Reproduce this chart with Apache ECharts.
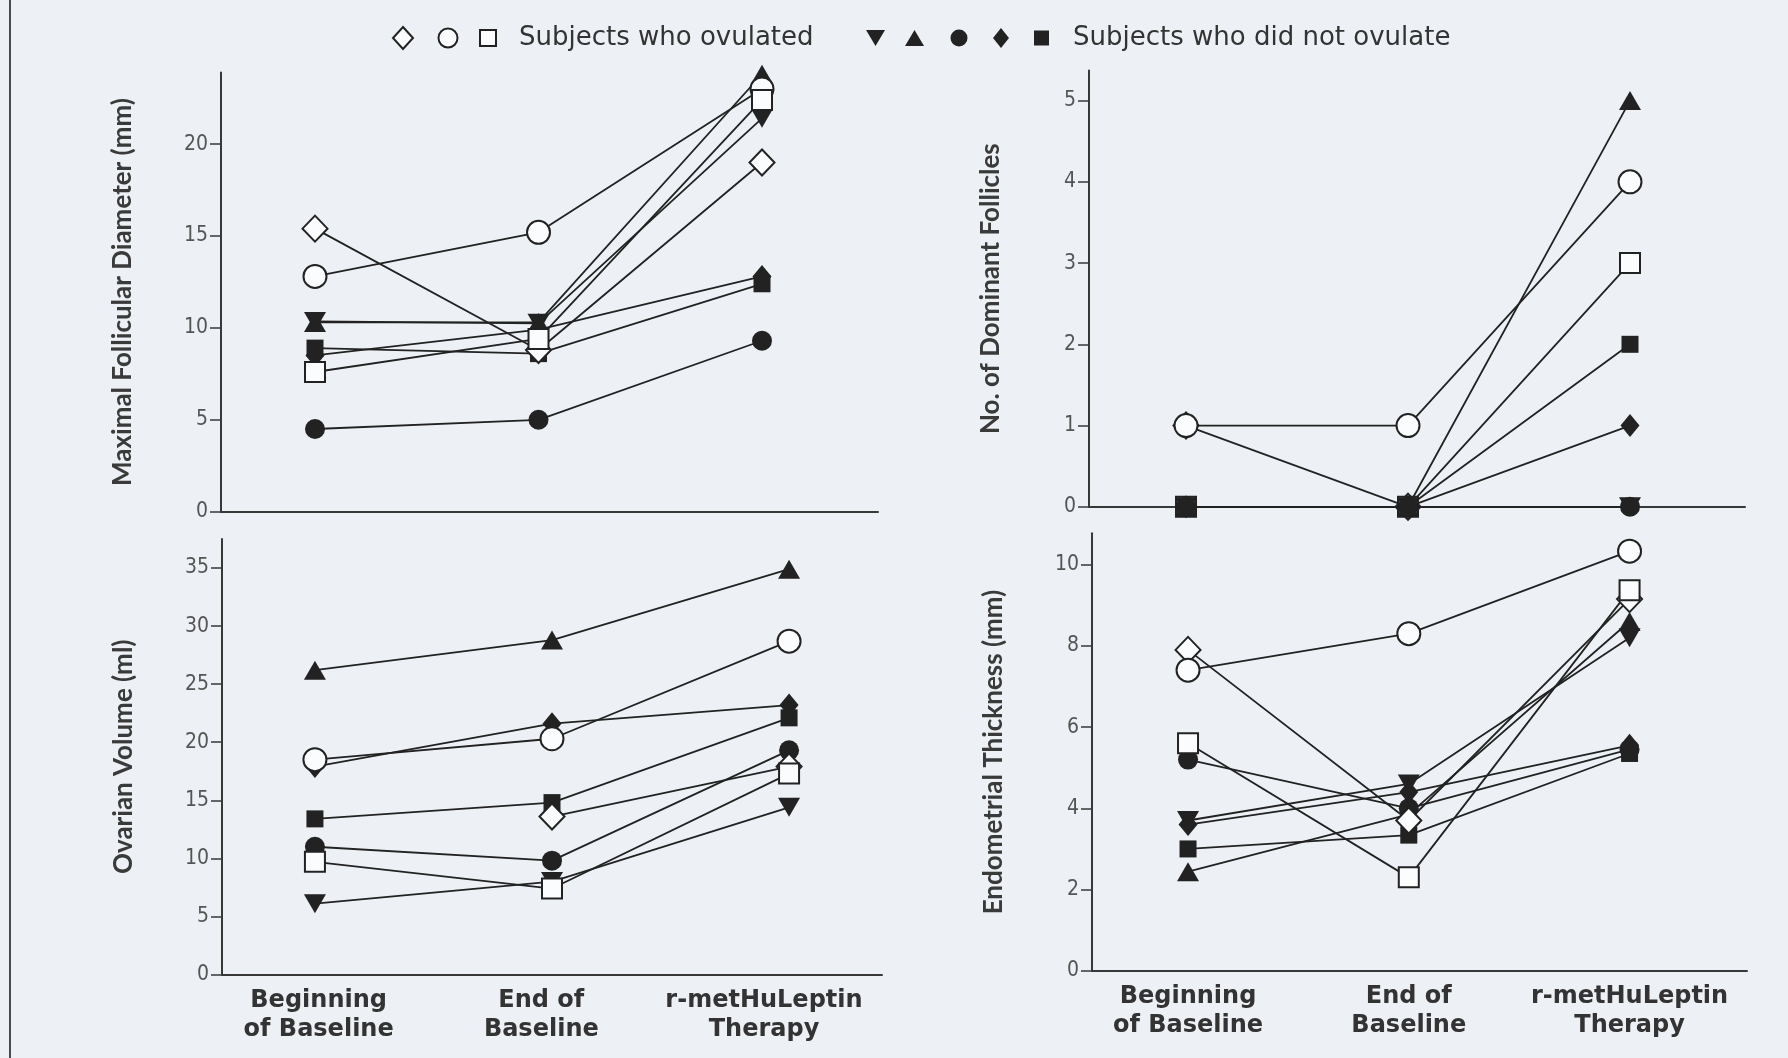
<!DOCTYPE html>
<html>
<head>
<meta charset="utf-8">
<title>r-metHuLeptin ovarian and endometrial response</title>
<script src="https://cdn.jsdelivr.net/npm/echarts@6/dist/echarts.min.js"></script>
<style>
  html, body { margin: 0; padding: 0; background: #edf0f4; }
  #chart { width: 1788px; height: 1058px; }
</style>
</head>
<body>
<div id="chart"></div>
<script>
// Study time points (shared by all four panels)
const timepoints = ['Beginning\nof Baseline', 'End of\nBaseline', 'r-metHuLeptin\nTherapy'];

// Subjects, in drawing order: 3 who ovulated, then 5 who did not
const subjects = ['Subject 1', 'Subject 2', 'Subject 3', 'Subject 4', 'Subject 5', 'Subject 6', 'Subject 7', 'Subject 8'];
const legendLabels = ['Subjects who ovulated', 'Subjects who did not ovulate'];

// One row per subject, one value per time point
const follicleDiameterMm = [
  [15.4, 8.8, 19.0],
  [12.8, 15.2, 23.0],
  [7.6, 9.4, 22.4],
  [10.35, 10.25, 21.4],
  [10.3, 10.3, 23.8],
  [4.5, 5.0, 9.3],
  [8.5, 9.9, 12.8],
  [8.9, 8.6, 12.4]
];
const dominantFollicles = [
  [1, 0, null],
  [1, 1, 4],
  [0, 0, 3],
  [0, 0, 0],
  [0, 0, 5],
  [0, 0, 0],
  [0, 0, 1],
  [0, 0, 2]
];
const ovarianVolumeMl = [
  [null, 13.6, 17.9],
  [18.5, 20.3, 28.7],
  [9.7, 7.4, 17.3],
  [6.1, 8.0, 14.4],
  [26.2, 28.8, 34.9],
  [11.0, 9.8, 19.3],
  [17.9, 21.6, 23.2],
  [13.4, 14.8, 22.1]
];
const endometrialMm = [
  [7.9, 3.7, 9.15],
  [7.4, 8.3, 10.33],
  [5.6, 2.3, 9.37],
  [3.7, 4.6, 8.2],
  [2.44, 3.85, 8.6],
  [5.2, 4.0, 5.45],
  [3.6, 4.4, 5.55],
  [3.0, 3.34, 5.35]
];

// Tick values for each y axis
const diameterTicks = [0, 5, 10, 15, 20];
const follicleTicks = [0, 1, 2, 3, 4, 5];
const volumeTicks = [0, 5, 10, 15, 20, 25, 30, 35];
const endometrialTicks = [0, 2, 4, 6, 8, 10];

// Marker per subject: open for ovulated, filled for not ovulated
const markers = [
  { symbol: 'diamond', size: [25, 26], open: true },
  { symbol: 'circle', size: 23, open: true },
  { symbol: 'rect', size: 20, open: true },
  { symbol: 'triangle', size: [22, 19], open: false, rotate: 180 },
  { symbol: 'triangle', size: [22, 19], open: false },
  { symbol: 'circle', size: 20, open: false },
  { symbol: 'diamond', size: [19, 23], open: false },
  { symbol: 'rect', size: 17, open: false }
];

const INK = '#222';
const AXIS = '#383838';
const OPEN_FILL = '#fbfcfd';
const TICK_FONT = "'Liberation Sans Narrow', 'DejaVu Sans Condensed', 'Liberation Sans', sans-serif";
const NAME_FONT = "Lato, 'Open Sans', sans-serif";
const CAT_FONT = "'DejaVu Sans', sans-serif";
const TICK_LEN = 11;

const panels = [
  { values: follicleDiameterMm, ticks: diameterTicks, title: 'Maximal Follicular Diameter (mm)',
    box: { left: 221, top: 72.4, width: 657, height: 439.3 }, xr: [-0.4206, 2.519], yMax: 23.9,
    showCats: false, filledOnTop: false },
  { values: dominantFollicles, ticks: follicleTicks, title: 'No. of Dominant Follicles',
    box: { left: 1089, top: 70.5, width: 656, height: 436.3 }, xr: [-0.437, 2.518], yMax: 5.37,
    showCats: false, filledOnTop: true },
  { values: ovarianVolumeMl, ticks: volumeTicks, title: 'Ovarian Volume (ml)',
    box: { left: 222, top: 539, width: 660, height: 435.5 }, xr: [-0.392, 2.392], yMax: 37.5,
    showCats: false, filledOnTop: false },
  { values: endometrialMm, ticks: endometrialTicks, title: 'Endometrial Thickness (mm)',
    box: { left: 1092, top: 533.3, width: 655, height: 437.5 }, xr: [-0.435, 2.532], yMax: 10.77,
    showCats: true, filledOnTop: false }
];

const catLabelStyle = {
  fontFamily: CAT_FONT, fontWeight: 'bold', fontSize: 24, lineHeight: 29, color: '#333', margin: 11
};

const grids = [];
const xAxes = [];
const yAxes = [];
const series = [];

panels.forEach((p, gi) => {
  grids.push(Object.assign({ containLabel: false, outerBoundsMode: 'none' }, p.box));
  xAxes.push({
    gridIndex: gi, type: 'value', min: p.xr[0], max: p.xr[1],
    axisLine: { show: true, onZero: false, lineStyle: { color: AXIS, width: 2 } },
    axisTick: { show: false }, splitLine: { show: false },
    axisLabel: p.showCats
      ? Object.assign({ show: true, customValues: [0, 1, 2], formatter: v => timepoints[v] }, catLabelStyle)
      : { show: false }
  });
  yAxes.push({
    gridIndex: gi, type: 'value', min: 0, max: p.yMax,
    axisLine: { show: true, onZero: false, lineStyle: { color: AXIS, width: 2 } },
    axisTick: { show: true, customValues: p.ticks, length: TICK_LEN, lineStyle: { color: AXIS, width: 1.5 } },
    axisLabel: { customValues: p.ticks, margin: TICK_LEN + 2, fontFamily: TICK_FONT, fontSize: 21, color: '#555' },
    splitLine: { show: false },
    name: p.title, nameLocation: 'middle', nameRotate: 90, nameGap: 85,
    nameTextStyle: { fontFamily: NAME_FONT, fontWeight: 'bold', fontSize: 26, color: '#3a3a3a' }
  });
  p.values.forEach((row, si) => {
    const m = markers[si];
    const onTop = p.filledOnTop ? !m.open : m.open;
    series.push({
      type: 'line', name: subjects[si], xAxisIndex: gi, yAxisIndex: gi,
      data: row.map((v, i) => [i, v]),
      symbol: m.symbol, symbolSize: m.size, symbolRotate: m.rotate || 0,
      showSymbol: true, showAllSymbol: true, connectNulls: false,
      lineStyle: { color: INK, width: 1.8 },
      itemStyle: { color: m.open ? OPEN_FILL : INK, borderColor: INK, borderWidth: m.open ? 2 : 0 },
      z: onTop ? 3 : 2, silent: true, animation: false
    });
  });
});

// Time-point captions under the ovarian-volume panel, spaced like the panel above it
grids.push({ left: 222, top: 974.5, width: 660, height: 1, containLabel: false, outerBoundsMode: 'none' });
xAxes.push({
  gridIndex: 4, type: 'value', min: -0.434, max: 2.53,
  axisLine: { show: false }, axisTick: { show: false }, splitLine: { show: false },
  axisLabel: Object.assign({ show: true, customValues: [0, 1, 2], formatter: v => timepoints[v] }, catLabelStyle)
});
yAxes.push({ gridIndex: 4, type: 'value', min: 0, max: 1, show: false });

// Legend strip along the top
const LY = 38;
function diamondPts(cx, cy, w, h) {
  return [[cx, cy - h / 2], [cx + w / 2, cy], [cx, cy + h / 2], [cx - w / 2, cy]];
}
const openStyle = { fill: OPEN_FILL, stroke: INK, lineWidth: 2 };
const filledStyle = { fill: INK };
const legendText = { fontFamily: CAT_FONT, fontSize: 26, fill: '#333', verticalAlign: 'middle' };
const graphic = [
  { type: 'line', shape: { x1: 10, y1: 0, x2: 10, y2: 1058 }, style: { stroke: '#4a4a4a', lineWidth: 2 } },
  { type: 'polygon', shape: { points: diamondPts(403, LY, 20, 22) }, style: openStyle },
  { type: 'circle', shape: { cx: 448, cy: LY, r: 9.5 }, style: openStyle },
  { type: 'rect', shape: { x: 480, y: LY - 8, width: 16, height: 16 }, style: openStyle },
  { type: 'text', x: 519, y: LY, style: Object.assign({ text: legendLabels[0] }, legendText) },
  { type: 'polygon', shape: { points: [[866, LY - 8], [885, LY - 8], [875.5, LY + 8]] }, style: filledStyle },
  { type: 'polygon', shape: { points: [[905, LY + 8], [924, LY + 8], [914.5, LY - 8]] }, style: filledStyle },
  { type: 'circle', shape: { cx: 959, cy: LY, r: 8.5 }, style: filledStyle },
  { type: 'polygon', shape: { points: diamondPts(1001, LY, 16, 20) }, style: filledStyle },
  { type: 'rect', shape: { x: 1034, y: LY - 7.5, width: 15, height: 15 }, style: filledStyle },
  { type: 'text', x: 1073, y: LY, style: Object.assign({ text: legendLabels[1] }, legendText) }
];

const chart = echarts.init(document.getElementById('chart'), null, { renderer: 'canvas' });
chart.setOption({
  backgroundColor: '#edf0f4',
  animation: false,
  grid: grids,
  xAxis: xAxes,
  yAxis: yAxes,
  series: series,
  graphic: graphic
});
</script>
</body>
</html>
